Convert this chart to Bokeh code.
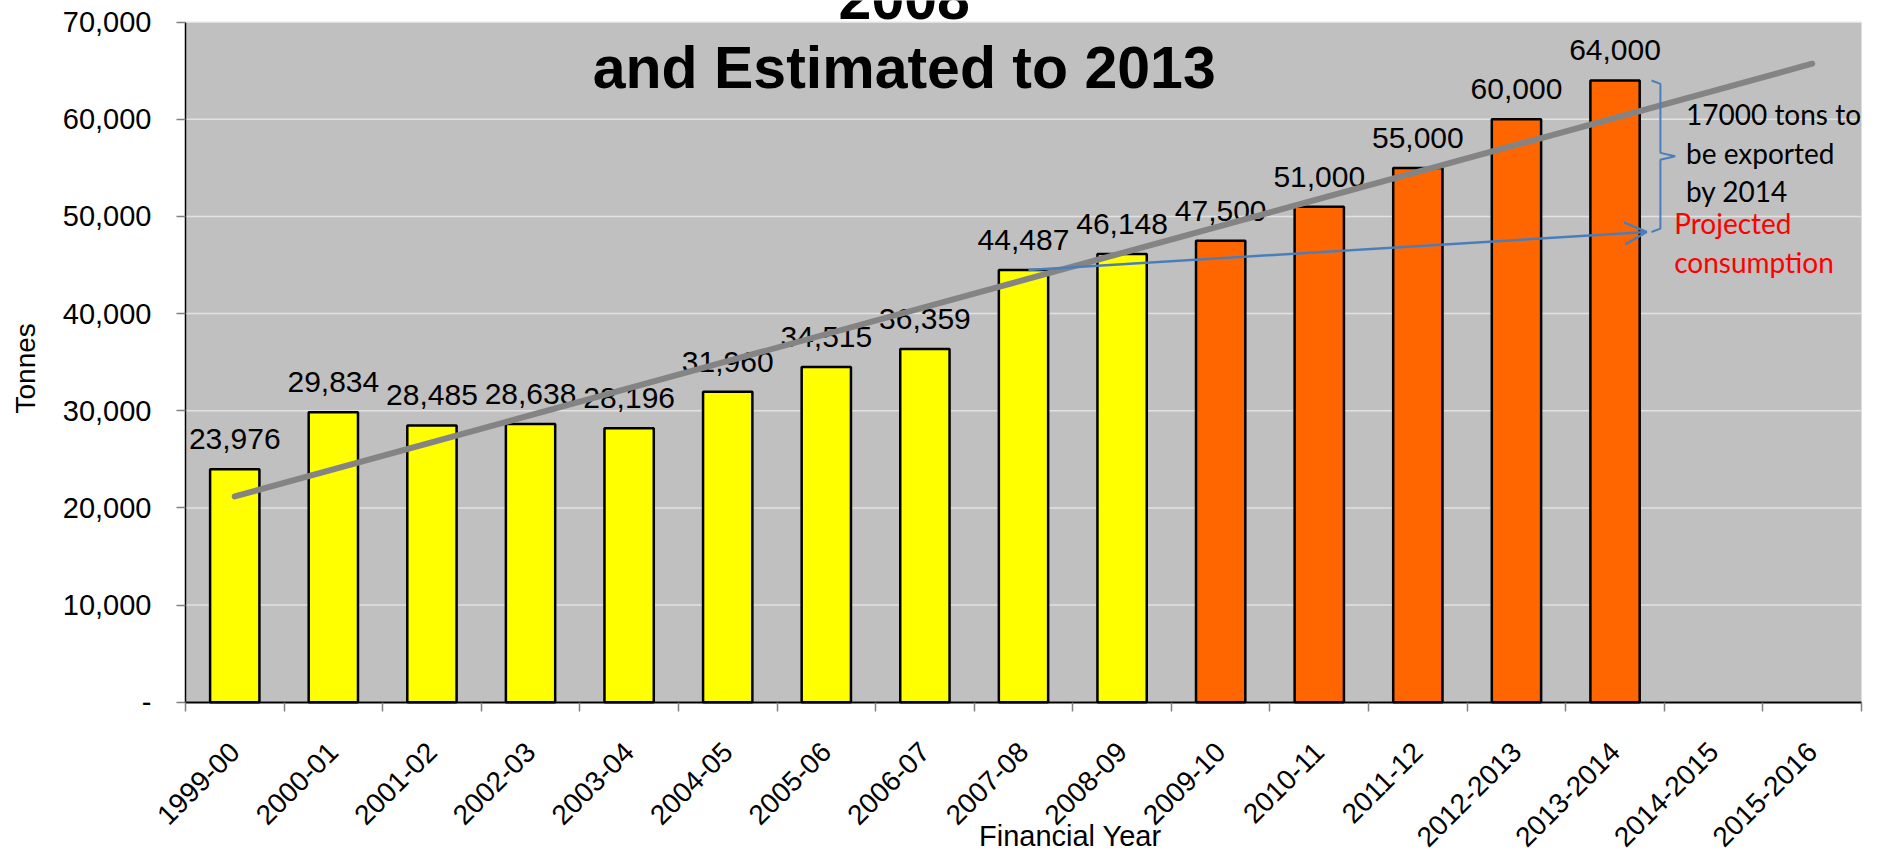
import numpy as np
from math import pi
from bokeh.plotting import figure
from bokeh.models import (ColumnDataSource, FixedTicker, Label, Arrow, OpenHead,
                          Range1d, BoxAnnotation)
from bokeh.core.properties import value
from bokeh.embed import file_html
from bokeh.resources import INLINE

# ---------------- data ----------------
years = ["1999-00", "2000-01", "2001-02", "2002-03", "2003-04", "2004-05",
         "2005-06", "2006-07", "2007-08", "2008-09", "2009-10", "2010-11",
         "2011-12", "2012-2013", "2013-2014", "2014-2015", "2015-2016"]
tonnes = [23976, 29834, 28485, 28638, 28196, 31960, 34515, 36359, 44487,
          46148, 47500, 51000, 55000, 60000, 64000]
value_labels = ["23,976", "29,834", "28,485", "28,638", "28,196", "31,960",
                "34,515", "36,359", "44,487", "46,148", "47,500", "51,000",
                "55,000", "60,000", "64,000"]
n_actual = 10                      # 1999-00 .. 2008-09 actual, rest estimated
y_ticks = [0, 10000, 20000, 30000, 40000, 50000, 60000, 70000]
y_tick_labels = ["-", "10,000", "20,000", "30,000", "40,000", "50,000",
                 "60,000", "70,000"]
projection_start_year = "2007-08"
projection_end_year = "2013-2014"
projected_consumption_2014 = 48400
title_lines = ["2008", "and Estimated to 2013"]
export_note = ["17000 tons to", "be exported", "by 2014"]
projected_note = ["Projected", "consumption"]

ACTUAL_COLOR = "#FFFF00"
EST_COLOR = "#FF6600"
BLUE = "#4A7EBB"
PLOT_BG = "#C0C0C0"
FONT = "Liberation Sans"
NOTE_FONT = "Lato"

# ---------------- figure (frame covers whole canvas) ----------------
W, H = 1884, 851
p = figure(width=W, height=H, output_backend="svg", toolbar_location=None,
           x_range=Range1d(-1.876, 17.233), y_range=Range1d(-15376, 72235),
           min_border_left=0, min_border_right=0, min_border_top=0,
           min_border_bottom=0)
p.title.visible = False
p.background_fill_color = "white"
p.border_fill_color = "white"
p.outline_line_color = None
p.xgrid.visible = False
p.ygrid.visible = False

n_cat = len(years)
# grey plot area
p.add_layout(BoxAnnotation(left=0, right=n_cat, bottom=y_ticks[0], top=y_ticks[-1],
                           fill_color=PLOT_BG, fill_alpha=1.0, line_color=None,
                           level="image"))
# horizontal grid lines
p.segment(x0=[0] * len(y_ticks), x1=[n_cat] * len(y_ticks), y0=y_ticks, y1=y_ticks,
          line_color="#E2E2E2", line_width=1.5, level="underlay")

idx = np.arange(len(tonnes))
src = ColumnDataSource(dict(
    x=idx + 0.5,
    top=tonnes,
    label=value_labels,
    color=[ACTUAL_COLOR if i < n_actual else EST_COLOR for i in idx],
))

p.vbar(x="x", top="top", width=0.5, fill_color="color", line_color="black",
       line_width=2.5, source=src)

p.text(x="x", y="top", text="label", text_align="center", text_baseline="middle",
       y_offset=-30, text_font=value(FONT), text_font_size="30px",
       text_color="black", source=src)

# linear trendline, forecast to the last category
coef = np.polyfit(idx, tonnes, 1)
tx = np.array([0, n_cat - 1])
p.line(tx + 0.5, np.polyval(coef, tx), line_color="#848484", line_width=6,
       line_cap="round")

# projected consumption arrow
xs0 = years.index(projection_start_year) + 0.55
ys0 = tonnes[years.index(projection_start_year)]
xe = years.index(projection_end_year) + 0.82
p.add_layout(Arrow(x_start=xs0, y_start=ys0, x_end=xe, y_end=projected_consumption_2014,
                   line_color=BLUE, line_width=2.5,
                   end=OpenHead(size=22, line_color=BLUE, line_width=2.5)))

# curly brace between 64,000 and projected consumption
top_v = tonnes[-1]
bot_v = projected_consumption_2014
mid_v = (top_v + bot_v) / 2
bi = years.index(projection_end_year)
b0, b1, b2 = bi + 0.87, bi + 0.96, bi + 1.11
p.line([b0, b1, b1, b2, b1, b1, b0],
       [top_v, top_v - 350, mid_v + 350, mid_v, mid_v - 350, bot_v + 350, bot_v],
       line_color=BLUE, line_width=2)

# ---------------- axes (fixed at 0, inside the canvas) ----------------
ya = p.yaxis[0]
ya.fixed_location = 0
ya.bounds = (y_ticks[0], y_ticks[-1])
ya.ticker = FixedTicker(ticks=y_ticks)
ya.major_label_overrides = {t: l for t, l in zip(y_ticks, y_tick_labels)}
ya.major_label_text_font = FONT
ya.major_label_text_font_size = "29px"
ya.major_label_text_color = "black"
ya.major_tick_out = 9
ya.major_tick_in = 0
ya.major_tick_line_color = "#808080"
ya.major_tick_line_width = 1.5
ya.minor_tick_line_color = None
ya.axis_line_color = "black"
ya.axis_line_width = 1.5
ya.major_label_standoff = 25

xa = p.xaxis[0]
centers = [i + 0.5 for i in range(n_cat)]
xa.fixed_location = 0
xa.bounds = (0, n_cat)
xa.ticker = FixedTicker(ticks=centers, minor_ticks=list(range(n_cat + 1)))
xa.major_label_overrides = {c: y for c, y in zip(centers, years)}
xa.major_label_orientation = pi / 4
xa.major_label_text_font = FONT
xa.major_label_text_font_size = "28px"
xa.major_label_text_color = "black"
xa.major_tick_line_color = None
xa.major_tick_out = 0
xa.major_tick_in = 0
xa.minor_tick_out = 9
xa.minor_tick_in = 0
xa.minor_tick_line_color = "#808080"
xa.minor_tick_line_width = 1.5
xa.axis_line_color = "black"
xa.axis_line_width = 2
xa.major_label_standoff = 36

# ---------------- text annotations ----------------
for t, yv in zip(title_lines, [72473, 65262]):
    p.add_layout(Label(x=7.29, y=yv, text=t, text_align="center",
                       text_baseline="middle", text_font=FONT, text_font_size="59px",
                       text_font_style="bold", text_color="black"))

for t, yv in zip(export_note, [60525, 56509, 52595]):
    p.add_layout(Label(x=15.22, y=yv, text=t, text_align="left",
                       text_baseline="middle", text_font=NOTE_FONT,
                       text_font_size="28px", text_color="black"))
for t, yv in zip(projected_note, [49300, 45283]):
    p.add_layout(Label(x=15.10, y=yv, text=t, text_align="left",
                       text_baseline="middle", text_font=NOTE_FONT,
                       text_font_size="28px", text_color="#FF0000"))

p.add_layout(Label(x=-1.623, y=34367, text="Tonnes", angle=pi / 2,
                   text_align="center", text_baseline="middle", text_font=FONT,
                   text_font_size="28px", text_color="black"))
p.add_layout(Label(x=8.975, y=-13831, text="Financial Year", text_align="center",
                   text_baseline="middle", text_font=FONT,
                   text_font_size="29px", text_color="black"))

open("out.html", "w").write(file_html(p, INLINE))
